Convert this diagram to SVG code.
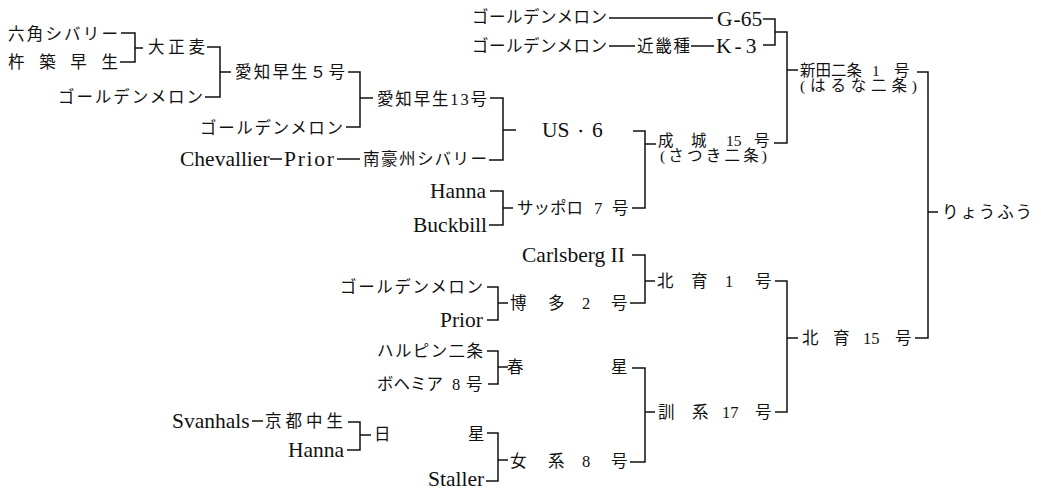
<svg xmlns="http://www.w3.org/2000/svg" width="1041" height="492" viewBox="0 0 1041 492">
<style>
text{font-family:"Liberation Serif","Noto Sans CJK JP",serif;fill:#111;}
.j{font-size:16.5px;}
.l{font-size:21.5px;font-family:"Liberation Serif","Times New Roman","DejaVu Serif",serif;}
.s{font-size:15.5px;}
.c path{fill:none;stroke:#111;stroke-width:1.5;}
</style>
<rect width="1041" height="492" fill="#fff"/>
<g class="c" id="connectors">
<path d="M121,33 H135 V62 H120 M135,48 H143"/>
<path d="M207,47 H220 V97 H205 M220,72 H231"/>
<path d="M348,72 H360 V127 H346 M360,98 H373"/>
<path d="M490,98 H503 V160 H489 M503,130 H516"/>
<path d="M633,131 H645 V208 H632 M645,144 H656"/>
<path d="M490,191 H503 V225 H489 M503,208 H513"/>
<path d="M763,19 H775 V45 H763 M775,32 H787 V143 H774 M787,70 H798"/>
<path d="M917,72 H928 V338 H915 M928,212 H938"/>
<path d="M632,255 H645 V303 H630 M645,281 H655"/>
<path d="M775,281 H787 V412 H775 M787,338 H798"/>
<path d="M487,287 H498 V320 H487 M498,303 H508"/>
<path d="M487,351 H498 V384 H488 M498,367 H508"/>
<path d="M632,368 H645 V462 H630 M645,412 H655"/>
<path d="M348,422 H360 V450 H347 M360,435 H371"/>
<path d="M487,433 H498 V481 H486 M498,460 H508"/>
<path d="M609,18 H713 M609,46 H635 M691,46 H714 M270,159 H282 M337,159 H360 M252,421 H263"/>
</g>
<g id="n_rokkaku"><text class="j" x="8" y="40" textLength="110" lengthAdjust="spacing">六角シバリー</text></g>
<g id="n_kitsuki"><text class="j" x="8" y="68" textLength="110" lengthAdjust="spacing">杵築早生</text></g>
<g id="n_taisho"><text class="j" x="148" y="53" textLength="57" lengthAdjust="spacing">大正麦</text></g>
<g id="n_gm1"><text class="j" x="58" y="103" textLength="145" lengthAdjust="spacing">ゴールデンメロン</text></g>
<g id="n_aichi5"><text class="j" x="235" y="78" textLength="110" lengthAdjust="spacing">愛知早生５号</text></g>
<g id="n_gm2"><text class="j" x="200" y="134" textLength="143" lengthAdjust="spacing">ゴールデンメロン</text></g>
<g id="n_aichi13"><text class="j" x="377" y="105" textLength="110" lengthAdjust="spacing">愛知早生13号</text></g>
<g id="n_chevallier"><text class="l" x="180" y="166">Chevallier</text></g>
<g id="n_prior1"><text class="l" x="284" y="166" textLength="50" lengthAdjust="spacing">Prior</text></g>
<g id="n_nango"><text class="j" x="363" y="165" textLength="124" lengthAdjust="spacing">南豪州シバリー</text></g>
<g id="n_us6"><text class="l" y="137"><tspan x="542">US</tspan><tspan x="572" class="j">・</tspan><tspan x="592">6</tspan></text></g>
<g id="n_gm3"><text class="j" x="472" y="23" textLength="135" lengthAdjust="spacing">ゴールデンメロン</text></g>
<g id="n_g65"><text class="l" x="717" y="26">G<tspan dx="1">-</tspan>65</text></g>
<g id="n_gm4"><text class="j" x="472" y="52" textLength="135" lengthAdjust="spacing">ゴールデンメロン</text></g>
<g id="n_kinki"><text class="j" x="637" y="52" textLength="53" lengthAdjust="spacing">近畿種</text></g>
<g id="n_k3"><text class="l" x="716" y="53">K<tspan dx="3">-</tspan><tspan dx="4">3</tspan></text></g>
<g id="n_nitta"><text class="s" y="76"><tspan x="800">新田二条</tspan><tspan x="872">1</tspan><tspan x="894">号</tspan></text><text class="s" x="800" y="91" textLength="117" lengthAdjust="spacing">(はるな二条)</text></g>
<g id="n_seijo"><text class="s" y="146"><tspan x="658">成</tspan><tspan x="691">城</tspan><tspan x="726">15</tspan><tspan x="754">号</tspan></text><text class="s" x="660" y="161" textLength="107" lengthAdjust="spacing">(さつき二条)</text></g>
<g id="n_hanna1"><text class="l" x="430" y="198">Hanna</text></g>
<g id="n_buckbill"><text class="l" x="413" y="232">Buckbill</text></g>
<g id="n_sapporo"><text class="j" y="214"><tspan x="517">サッポロ</tspan><tspan x="594">7</tspan><tspan x="612">号</tspan></text></g>
<g id="n_ryofu"><text class="j" x="942" y="218" textLength="90" lengthAdjust="spacing">りょうふう</text></g>
<g id="n_carlsberg"><text class="l" x="522" y="262">Carlsberg II</text></g>
<g id="n_hokuiku1"><text class="j" y="287"><tspan x="657">北</tspan><tspan x="691">育</tspan><tspan x="725">1</tspan><tspan x="755">号</tspan></text></g>
<g id="n_gm5"><text class="j" x="340" y="293" textLength="143" lengthAdjust="spacing">ゴールデンメロン</text></g>
<g id="n_hakata"><text class="j" y="309"><tspan x="510">博</tspan><tspan x="548">多</tspan><tspan x="582">2</tspan><tspan x="611">号</tspan></text></g>
<g id="n_prior2"><text class="l" x="440" y="327">Prior</text></g>
<g id="n_hokuiku15"><text class="j" y="344"><tspan x="802">北</tspan><tspan x="833">育</tspan><tspan x="863">15</tspan><tspan x="895">号</tspan></text></g>
<g id="n_harbin"><text class="j" x="377" y="357" textLength="106" lengthAdjust="spacing">ハルピン二条</text></g>
<g id="n_shunsei"><text class="j" y="373"><tspan x="507">春</tspan><tspan x="611">星</tspan></text></g>
<g id="n_bohemia"><text class="j" y="390"><tspan x="377">ボヘミア</tspan><tspan x="452">8</tspan><tspan x="466">号</tspan></text></g>
<g id="n_kunkei"><text class="j" y="418"><tspan x="658">訓</tspan><tspan x="692">系</tspan><tspan x="722">17</tspan><tspan x="755">号</tspan></text></g>
<g id="n_svanhals"><text class="l" x="172" y="428">Svanhals</text></g>
<g id="n_kyoto"><text class="j" x="265" y="427" textLength="78" lengthAdjust="spacing">京都中生</text></g>
<g id="n_hanna2"><text class="l" x="288" y="457">Hanna</text></g>
<g id="n_nissei"><text class="j" y="440"><tspan x="374">日</tspan><tspan x="468">星</tspan></text></g>
<g id="n_jokei"><text class="j" y="467"><tspan x="510">女</tspan><tspan x="548">系</tspan><tspan x="582">8</tspan><tspan x="611">号</tspan></text></g>
<g id="n_staller"><text class="l" x="428" y="486">Staller</text></g>
</svg>
